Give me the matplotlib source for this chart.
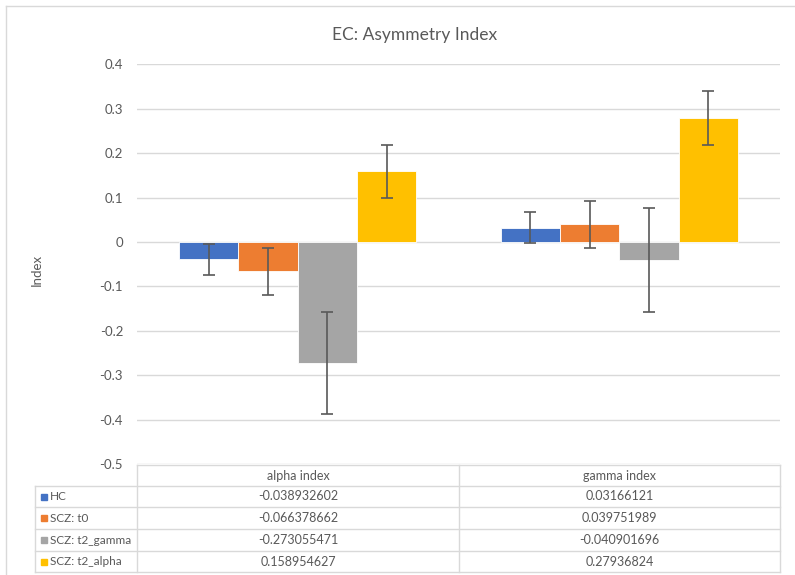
"""EC: Asymmetry Index - barras agrupadas con tabla de datos estilo Excel"""

import numpy as np
import matplotlib.pyplot as plt
from matplotlib.lines import Line2D
from matplotlib.patches import Rectangle

plt.rcParams['font.family'] = ['Lato', 'DejaVu Sans']

categorias = ['alpha index', 'gamma index']
series = ['HC', 'SCZ: t0', 'SCZ: t2_gamma', 'SCZ: t2_alpha']
valores = [
    [-0.038932602, 0.03166121],
    [-0.066378662, 0.039751989],
    [-0.273055471, -0.040901696],
    [0.158954627, 0.27936824],
]
errores = [
    [0.035, 0.035],
    [0.053, 0.053],
    [0.115, 0.117],
    [0.060, 0.060],
]
colores = ['#4472C4', '#ED7D31', '#A5A5A5', '#FFC000']
yticks = [0.4, 0.3, 0.2, 0.1, 0, -0.1, -0.2, -0.3, -0.4, -0.5]

W, H = 795, 575
TXT = '#595959'
GRID = '#D9D9D9'


def fx(px):
    return px / W


def fy(py):
    return 1 - py / H


fig = plt.figure(figsize=(W / 100, H / 100), dpi=100)
ax = fig.add_axes([fx(137), fy(464), fx(780) - fx(137), fy(64.4) - fy(464)])

x = np.arange(len(categorias))
ancho = 0.1845
for i, (nombre, vals, errs, col) in enumerate(zip(series, valores, errores, colores)):
    pos = x + (i - 1.5) * ancho
    ax.bar(pos, vals, width=ancho, color=col, edgecolor='white', linewidth=0.6, zorder=2)
    ax.errorbar(pos, vals, yerr=errs, fmt='none', ecolor='#595959', elinewidth=1.2,
                capsize=4, capthick=1.2, zorder=3)

ax.set_xlim(-0.5, len(categorias) - 0.5)
ax.set_ylim(-0.5, 0.4)
ax.set_yticks(yticks)
ax.set_yticklabels([f"{t:g}" for t in yticks], color=TXT, fontsize=9.5)
ax.set_xticks([])
ax.tick_params(axis='y', length=0, pad=10)
ax.grid(axis='y', color=GRID, linewidth=1, zorder=0)
for s in ax.spines.values():
    s.set_visible(False)

fig.text(fx(415), fy(35), 'EC: Asymmetry Index', ha='center', va='center',
         fontsize=12.5, color=TXT)
fig.text(fx(37), fy(270), 'Index', rotation=90, ha='center', va='center',
         fontsize=9.5, color=TXT)

# borde del gráfico
fig.add_artist(Line2D([fx(6), fx(6)], [fy(6), fy(580)], color=GRID, lw=1))
fig.add_artist(Line2D([fx(6), fx(800)], [fy(6), fy(6)], color=GRID, lw=1))

# tabla de datos
col_x = [137, 459, 780]
filas_y = [465, 486, 507, 529, 551, 572]
izq = 35
fig.add_artist(Line2D([fx(col_x[0]), fx(col_x[-1])], [fy(filas_y[0])] * 2, color=GRID, lw=1))
for yy in filas_y[1:]:
    fig.add_artist(Line2D([fx(izq), fx(col_x[-1])], [fy(yy)] * 2, color=GRID, lw=1))
for xx in col_x:
    fig.add_artist(Line2D([fx(xx)] * 2, [fy(filas_y[0]), fy(filas_y[-1])], color=GRID, lw=1))
fig.add_artist(Line2D([fx(izq)] * 2, [fy(filas_y[1]), fy(filas_y[-1])], color=GRID, lw=1))

for j, cat in enumerate(categorias):
    cx = (col_x[j] + col_x[j + 1]) / 2
    fig.text(fx(cx), fy((filas_y[0] + filas_y[1]) / 2), cat, ha='center', va='center',
             fontsize=9, color=TXT)

for i, (nombre, vals, col) in enumerate(zip(series, valores, colores)):
    cy = (filas_y[i + 1] + filas_y[i + 2]) / 2
    fig.add_artist(Rectangle((fx(41), fy(cy + 3)), fx(6), 6 / H, color=col,
                             transform=fig.transFigure))
    fig.text(fx(50), fy(cy), nombre, ha='left', va='center', fontsize=8.5, color=TXT)
    for j, v in enumerate(vals):
        cx = (col_x[j] + col_x[j + 1]) / 2
        fig.text(fx(cx), fy(cy), f"{v}", ha='center', va='center', fontsize=9, color=TXT)

plt.savefig('out.png', dpi=100)
